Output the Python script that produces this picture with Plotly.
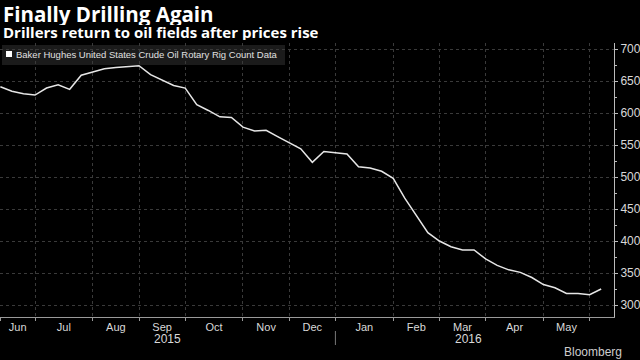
import pandas as pd
import plotly.graph_objects as go

# ---------------- data ----------------
title_text = "Finally Drilling Again"
subtitle_text = "Drillers return to oil fields after prices rise"
series_name = "Baker Hughes United States Crude Oil Rotary Rig Count Data"

first_week = "2015-06-12"
rig_count = [641, 634, 630, 628, 639, 644, 637, 659, 664, 669,
             671, 673, 674, 660, 651, 643, 639, 613, 604, 594,
             593, 578, 572, 573, 563, 554, 544, 523, 540, 538,
             536, 516, 514, 509, 498, 467, 440, 413, 400, 391,
             386, 386, 372, 362, 355, 351, 343, 332, 327, 318,
             318, 316, 325]
month_labels = ["Jun", "Jul", "Aug", "Sep", "Oct", "Nov", "Dec",
                "Jan", "Feb", "Mar", "Apr", "May"]
year_labels = ["2015", "2016"]
y_ticks = [300, 350, 400, 450, 500, 550, 600, 650, 700]

weeks = pd.date_range(first_week, periods=len(rig_count), freq="7D")
idx = list(range(len(rig_count)))

# first week of each month -> gridlines
month_starts = []
prev = None
for i, d in enumerate(weeks):
    key = (d.year, d.month)
    if key != prev:
        month_starts.append(i)
        prev = key
label_pos = [(month_starts[k] + month_starts[k + 1]) / 2 for k in range(len(month_labels))]
year_start = [i for i, d in enumerate(weeks) if d.month == 1 and (i == 0 or weeks[i - 1].month == 12)][0]
year_pos = [year_start / 2, (year_start + idx[-1]) / 2]

# ---------------- layout helpers ----------------
W, H = 640, 360
L, R, T, B = 0, 26, 43, 43
PW, PH = W - L - R, H - T - B


def px_x(px):
    return (px - L) / PW


def px_y(py):
    return (H - B - py) / PH


BG = "#000000"
GRID = "#3a3a3a"
TXT = "#d9d9d9"
FONT = "Open Sans"

fig = go.Figure()
fig.add_trace(go.Scatter(
    x=idx, y=rig_count, mode="lines", name=series_name,
    line=dict(color="#e6e6e6", width=1.5), showlegend=False,
    hovertemplate="%{y}<extra></extra>"))

shapes = [
    # legend box
    dict(type="rect", xref="paper", yref="paper",
         x0=px_x(2), x1=px_x(285), y0=px_y(65), y1=px_y(45),
         fillcolor="#1b1b1b", line=dict(width=0), layer="below"),
    dict(type="rect", xref="paper", yref="paper",
         x0=px_x(6), x1=px_x(12), y0=px_y(57), y1=px_y(51),
         fillcolor="#ffffff", line=dict(width=0)),
    # year separator tick
    dict(type="line", xref="x", yref="paper", x0=year_start, x1=year_start,
         y0=px_y(331), y1=px_y(345), line=dict(color="#777777", width=1)),
]

annotations = [
    dict(text="<b>" + title_text + "</b>", xref="paper", yref="paper",
         x=px_x(1), y=px_y(14), xanchor="left", yanchor="middle",
         height=22, valign="middle",
         showarrow=False, font=dict(family=FONT, size=20.5, color="#ffffff")),
    dict(text="<b>" + subtitle_text + "</b>", xref="paper", yref="paper",
         x=px_x(1), y=px_y(32), xanchor="left", yanchor="middle",
         height=16, valign="middle",
         showarrow=False, font=dict(family=FONT, size=15, color="#ffffff")),
    dict(text=series_name, xref="paper", yref="paper",
         x=px_x(14), y=px_y(55), xanchor="left", yanchor="middle",
         showarrow=False, font=dict(family="Liberation Sans", size=9.5, color="#e0e0e0")),
    dict(text="Bloomberg", xref="paper", yref="paper",
         x=px_x(624), y=px_y(352), xanchor="right", yanchor="middle",
         showarrow=False, font=dict(family="Liberation Sans", size=12, color="#cccccc")),
]
for yl, yp in zip(year_labels, year_pos):
    annotations.append(dict(text=yl, xref="x", yref="paper", x=yp, y=px_y(339),
                            xanchor="center", yanchor="middle", showarrow=False,
                            font=dict(family="Liberation Sans", size=12, color=TXT)))

fig.update_layout(
    width=W, height=H,
    margin=dict(l=L, r=R, t=T, b=B),
    paper_bgcolor=BG, plot_bgcolor=BG,
    showlegend=False,
    shapes=shapes, annotations=annotations,
    xaxis=dict(
        range=[-0.03, 53.11],
        tickmode="array", tickvals=label_pos, ticktext=month_labels,
        ticks="", showgrid=False, zeroline=False,
        showline=True, linecolor="#9a9a9a", linewidth=1,
        tickfont=dict(family="Liberation Sans", size=11, color=TXT),
        minor=dict(tickmode="array", tickvals=month_starts, ticks="outside",
                   ticklen=3, tickcolor="#9a9a9a", showgrid=True,
                   gridcolor=GRID, griddash="dot", gridwidth=1),
    ),
    yaxis=dict(
        side="right", range=[281.3, 709.4],
        tickmode="array", tickvals=y_ticks,
        ticks="outside", ticklen=3, tickcolor="#bbbbbb",
        showline=True, linecolor="#bbbbbb", linewidth=1,
        showgrid=True, gridcolor=GRID, griddash="dot", gridwidth=1,
        zeroline=False,
        tickfont=dict(family="Liberation Sans", size=12, color=TXT),
        minor=dict(dtick=25, ticks="outside", ticklen=2, tickcolor="#bbbbbb", showgrid=False),
    ),
)

fig.write_html("out.html",
               config={"displayModeBar": False},
               post_script="document.body.style.margin='0';document.body.style.background='#000';")
